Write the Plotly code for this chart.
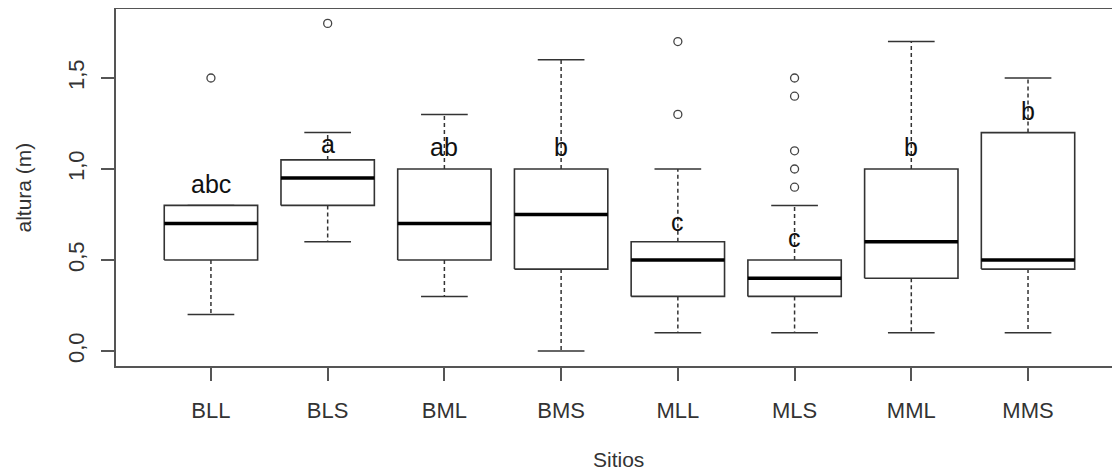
import plotly.graph_objects as go

# ---- data ----
sites = ["BLL", "BLS", "BML", "BMS", "MLL", "MLS", "MML", "MMS"]
q1 = [0.50, 0.80, 0.50, 0.45, 0.30, 0.30, 0.40, 0.45]
median = [0.70, 0.95, 0.70, 0.75, 0.50, 0.40, 0.60, 0.50]
q3 = [0.80, 1.05, 1.00, 1.00, 0.60, 0.50, 1.00, 1.20]
lower_whisker = [0.20, 0.60, 0.30, 0.00, 0.10, 0.10, 0.10, 0.10]
upper_whisker = [0.80, 1.20, 1.30, 1.60, 1.00, 0.80, 1.70, 1.50]
outliers = [[1.5], [1.8], [], [], [1.7, 1.3], [1.5, 1.4, 1.1, 1.0, 0.9], [], []]
letters = ["abc", "a", "ab", "b", "c", "c", "b", "b"]
letter_y = [0.92, 1.14, 1.12, 1.12, 0.71, 0.62, 1.12, 1.32]
ytick_vals = [0.0, 0.5, 1.0, 1.5]
ytick_text = ["0,0", "0,5", "1,0", "1,5"]

HALF = 0.4   # half box width (axis units)
CAP = 0.2    # half staple width
FONT = "Liberation Sans, Arial, sans-serif"

pos = list(range(1, len(sites) + 1))

box_x, box_y = [], []
med_x, med_y = [], []
wh_x, wh_y = [], []
cap_x, cap_y = [], []
out_x, out_y = [], []
for i, p in enumerate(pos):
    box_x += [p - HALF, p + HALF, p + HALF, p - HALF, p - HALF, None]
    box_y += [q1[i], q1[i], q3[i], q3[i], q1[i], None]
    med_x += [p - HALF, p + HALF, None]
    med_y += [median[i], median[i], None]
    wh_x += [p, p, None, p, p, None]
    wh_y += [q3[i], upper_whisker[i], None, q1[i], lower_whisker[i], None]
    cap_x += [p - CAP, p + CAP, None, p - CAP, p + CAP, None]
    cap_y += [upper_whisker[i], upper_whisker[i], None, lower_whisker[i], lower_whisker[i], None]
    for v in outliers[i]:
        out_x.append(p)
        out_y.append(v)

fig = go.Figure()
fig.add_trace(go.Scatter(x=wh_x, y=wh_y, mode="lines",
                         line=dict(color="#333333", width=1.5, dash="4px,3px"),
                         hoverinfo="skip", showlegend=False))
fig.add_trace(go.Scatter(x=cap_x, y=cap_y, mode="lines",
                         line=dict(color="#333333", width=1.5),
                         hoverinfo="skip", showlegend=False))
fig.add_trace(go.Scatter(x=box_x, y=box_y, mode="lines", fill="toself",
                         fillcolor="white",
                         line=dict(color="#333333", width=1.6),
                         hoverinfo="skip", showlegend=False))
fig.add_trace(go.Scatter(x=med_x, y=med_y, mode="lines",
                         line=dict(color="black", width=3.5),
                         hoverinfo="skip", showlegend=False))
fig.add_trace(go.Scatter(x=out_x, y=out_y, mode="markers",
                         marker=dict(symbol="circle-open", size=8,
                                     color="#444444", line=dict(width=1.3)),
                         hoverinfo="skip", showlegend=False))

for i, p in enumerate(pos):
    fig.add_annotation(x=p, y=letter_y[i], text=letters[i], showarrow=False,
                       font=dict(family=FONT, size=25, color="#111111"),
                       xanchor="center", yanchor="middle")

# page has an 8px body margin: figure coordinates = page coordinates - 8
OFF = 8
W, H = 1120 - OFF, 473 - OFF
L, R, T, B = 116 - OFF, 0, 9 - OFF, 473 - 366

fig.add_annotation(x=0.5, xref="paper", y=(H - B - (459 - OFF)) / (H - T - B),
                   yref="paper", text="Sitios",
                   showarrow=False, font=dict(family=FONT, size=21, color="#333333"),
                   xanchor="center", yanchor="middle")
fig.add_annotation(x=((23 - OFF) - L) / (W - L - R), xref="paper", y=0.5,
                   yref="paper", text="altura (m)",
                   showarrow=False, textangle=-90,
                   font=dict(family=FONT, size=21, color="#333333"),
                   xanchor="center", yanchor="middle")

fig.update_layout(
    width=W, height=H,
    margin=dict(l=L, r=R, t=T, b=B),
    plot_bgcolor="white", paper_bgcolor="white",
    showlegend=False,
    font=dict(family=FONT, size=21, color="#333333"),
    xaxis=dict(range=[0.1866, 8.788], tickvals=pos, ticktext=sites,
               showgrid=False, zeroline=False,
               showline=True, linecolor="#555555", linewidth=2, mirror=True,
               ticks="outside", ticklen=13, tickwidth=2, tickcolor="#555555",
               ticklabelstandoff=11,
               tickfont=dict(family=FONT, size=22, color="#333333")),
    yaxis=dict(range=[-0.0824, 1.879], tickvals=ytick_vals, ticktext=ytick_text,
               showgrid=False, zeroline=False,
               showline=True, linecolor="#555555", linewidth=2,
               ticks="outside", ticklen=13, tickwidth=2, tickcolor="#555555",
               tickangle=-90, ticklabelstandoff=8,
               tickfont=dict(family=FONT, size=22, color="#333333")),
)

fig.write_html("out.html")
